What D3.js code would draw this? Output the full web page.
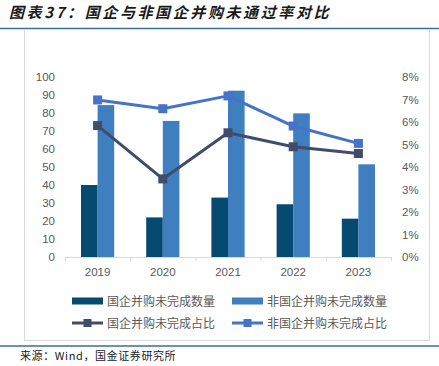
<!DOCTYPE html>
<html><head><meta charset="utf-8">
<script src="https://cdn.jsdelivr.net/npm/d3@7"></script>
<style>
html,body{margin:0;padding:0;background:#fff;}
svg{display:block;}
</style></head>
<body>
<svg id="c" width="439" height="366"></svg>
<script>
const years = ["2019","2020","2021","2022","2023"];
const soeCount = [40, 22, 33, 29.3, 21.3];
const nonSoeCount = [84.4, 75.6, 92.4, 79.8, 51.5];
const soeRate = [5.84, 3.47, 5.52, 4.9, 4.6];
const nonSoeRate = [6.98, 6.59, 7.16, 5.82, 5.05];
const leftTicks = [0,10,20,30,40,50,60,70,80,90,100];
const rightTicks = [0,1,2,3,4,5,6,7,8];
const legendNames = ["国企并购未完成数量","非国企并购未完成数量","国企并购未完成占比","非国企并购未完成占比"];

const cDark = "#064a70", cLight = "#3f7fbf", cLineDark = "#404c69", cLineLight = "#4672c8";
const font = "Liberation Sans, Arial, sans-serif";
const svg = d3.select("#c");

// title
svg.append("text").attr("x", 9).attr("y", 18)
  .attr("font-family", "Noto Sans CJK SC").attr("font-size", 15).attr("font-weight", "bold")
  .attr("font-style", "italic").attr("fill", "#1a1a1a").attr("letter-spacing", 2.6)
  .text("图表37：国企与非国企并购未通过率对比");
svg.append("line").attr("x1",0).attr("x2",439).attr("y1",28.5).attr("y2",28.5).attr("stroke","#3a6e9e").attr("stroke-width",1.5);
// chart box
svg.append("rect").attr("x",24.5).attr("y",29.5).attr("width",405).attr("height",311).attr("fill","none").attr("stroke","#d9d9d9");
svg.append("line").attr("x1",0).attr("x2",439).attr("y1",346).attr("y2",346).attr("stroke","#3a6e9e").attr("stroke-width",1.5);
svg.append("text").attr("x",20).attr("y",360).attr("font-family","Noto Sans CJK SC").attr("font-size",11).attr("fill","#222")
  .attr("letter-spacing", 0.6).text("来源：Wind，国金证券研究所");

const x = d3.scaleBand().domain(years).range([65, 391]).paddingInner(0).paddingOuter(0);
const yL = d3.scaleLinear().domain([0,100]).range([257, 77]);
const yR = d3.scaleLinear().domain([0,8]).range([257, 77]);
const bw = 16.6;

// baseline
svg.append("line").attr("x1",65).attr("x2",391).attr("y1",257.5).attr("y2",257.5).attr("stroke","#d9d9d9");
const tickXs = years.map(y=>x(y)).concat([391]);
svg.selectAll(".tk").data(tickXs).enter().append("line")
  .attr("x1",d=>d+0.5).attr("x2",d=>d+0.5).attr("y1",257).attr("y2",261).attr("stroke","#d9d9d9");

// left axis labels
svg.selectAll(".ll").data(leftTicks).enter().append("text")
  .attr("x",55).attr("y",d=>yL(d)+4).attr("text-anchor","end")
  .attr("font-family",font).attr("font-size",11.5).attr("fill","#595959").text(d=>d);
// right axis labels
svg.selectAll(".rl").data(rightTicks).enter().append("text")
  .attr("x",402).attr("y",d=>yR(d)+4).attr("text-anchor","start")
  .attr("font-family",font).attr("font-size",11.5).attr("fill","#595959").text(d=>d+"%");
// x labels
svg.selectAll(".xl").data(years).enter().append("text")
  .attr("x",d=>x(d)+x.bandwidth()/2).attr("y",276).attr("text-anchor","middle")
  .attr("font-family",font).attr("font-size",11.5).attr("fill","#595959").text(d=>d);

// bars
svg.selectAll(".b1").data(years).enter().append("rect")
  .attr("x",d=>x(d)+x.bandwidth()/2-bw).attr("width",bw)
  .attr("y",(d,i)=>yL(soeCount[i])).attr("height",(d,i)=>yL(0)-yL(soeCount[i])).attr("fill",cDark);
svg.selectAll(".b2").data(years).enter().append("rect")
  .attr("x",d=>x(d)+x.bandwidth()/2).attr("width",bw)
  .attr("y",(d,i)=>yL(nonSoeCount[i])).attr("height",(d,i)=>yL(0)-yL(nonSoeCount[i])).attr("fill",cLight);

// lines
function drawLine(vals, color){
  const line = d3.line().x((d,i)=>x(years[i])+x.bandwidth()/2).y(d=>yR(d));
  svg.append("path").datum(vals).attr("d",line).attr("fill","none").attr("stroke",color).attr("stroke-width",3).attr("stroke-linejoin","round");
  svg.selectAll(null).data(vals).enter().append("rect")
    .attr("x",(d,i)=>x(years[i])+x.bandwidth()/2-4.5).attr("y",d=>yR(d)-4.5)
    .attr("width",9).attr("height",9).attr("fill",color);
}
drawLine(soeRate, cLineDark);
drawLine(nonSoeRate, cLineLight);

// legend
const lg = [
  {x:72, y:301, type:"bar", c:cDark},
  {x:232, y:301, type:"bar", c:cLight},
  {x:72, y:323, type:"line", c:cLineDark},
  {x:232, y:323, type:"line", c:cLineLight}
];
lg.forEach((l,i)=>{
  if(l.type==="bar"){
    svg.append("rect").attr("x",l.x).attr("y",l.y-3.5).attr("width",31).attr("height",7).attr("fill",l.c);
  } else {
    svg.append("line").attr("x1",l.x).attr("x2",l.x+31).attr("y1",l.y).attr("y2",l.y).attr("stroke",l.c).attr("stroke-width",3);
    svg.append("rect").attr("x",l.x+11.5).attr("y",l.y-4).attr("width",8).attr("height",8).attr("fill",l.c);
  }
  svg.append("text").attr("x",l.x+35).attr("y",l.y+4.5).attr("font-family","Noto Sans CJK SC")
    .attr("font-size",12).attr("fill","#595959").text(legendNames[i]);
});
</script>
</body></html>
